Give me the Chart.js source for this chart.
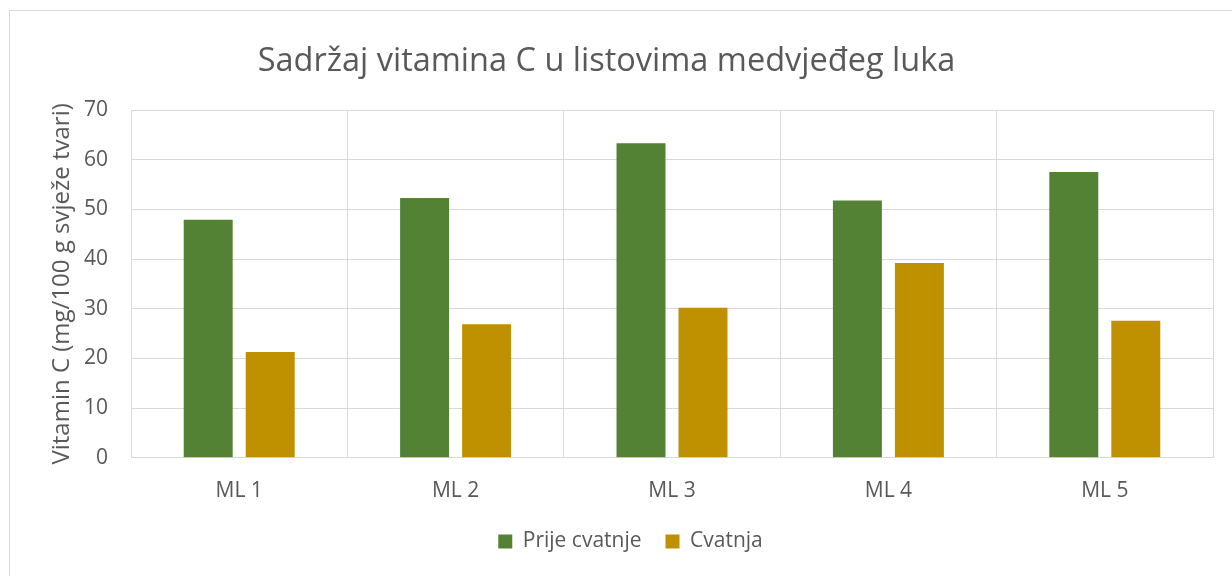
<!DOCTYPE html>
<html>
<head>
<meta charset="utf-8">
<script src="https://cdn.jsdelivr.net/npm/chart.js@4.4.1/dist/chart.umd.min.js"></script>
<style>
  html, body { margin: 0; padding: 0; background: #fff; }
  #wrap { position: relative; width: 1232px; height: 576px; overflow: hidden; }
  #frame { position: absolute; left: 9px; top: 10px; width: 1240px; height: 600px; border: 1px solid #d9d9d9; box-sizing: border-box; }
  canvas { position: absolute; left: 0; top: 0; }
</style>
</head>
<body>
<div id="wrap">
  <div id="frame"></div>
  <canvas id="vitChart" width="1232" height="576"></canvas>
</div>
<script>
// podaci sa grafikona
const categories = ['ML 1', 'ML 2', 'ML 3', 'ML 4', 'ML 5'];
const prijeCvatnje = [47.9, 52.3, 63.3, 51.8, 57.5];
const cvatnja = [21.3, 26.9, 30.2, 39.2, 27.6];
const yTicks = [0, 10, 20, 30, 40, 50, 60, 70];

const textColor = '#595959';
const gridColor = '#d9d9d9';
const fontFamily = "'Open Sans', 'Noto Sans', sans-serif";

// legenda: veći razmak između stavki, ali manje mjesta iznad, i malo udesno
const legendTweak = {
    id: 'legendTweak',
    beforeLayout(chart) {
        const lg = chart.legend;
        if (lg && !lg._tweaked) {
            const fit = lg.fit;
            lg.fit = function () { fit.call(this); this.height -= 18; };
            lg._tweaked = true;
        }
    },
    afterLayout(chart) {
        const lg = chart.legend;
        lg.top -= 18;
        lg.height += 18;
        lg.left += 24;
        lg.right += 24;
    }
};

const ctx = document.getElementById('vitChart').getContext('2d');
const vitChart = new Chart(ctx, {
    type: 'bar',
    data: {
        labels: categories,
        datasets: [{
            label: 'Prije cvatnje',
            data: prijeCvatnje,
            backgroundColor: '#548235',
            borderWidth: 0
        }, {
            label: 'Cvatnja',
            data: cvatnja,
            backgroundColor: '#bf9000',
            borderWidth: 0
        }]
    },
    plugins: [legendTweak],
    options: {
        responsive: false,
        animation: false,
        devicePixelRatio: 1,
        categoryPercentage: 0.573,
        barPercentage: 0.79,
        layout: {
            padding: { left: 0, right: 19, top: 0, bottom: 14 }
        },
        scales: {
            x: {
                grid: { color: gridColor, lineWidth: 1, drawTicks: false, offset: true },
                border: { color: gridColor },
                ticks: { color: textColor, font: { family: fontFamily, size: 21 }, padding: 21 }
            },
            y: {
                min: 0,
                max: 70,
                afterBuildTicks: (scale) => { scale.ticks = yTicks.map(v => ({ value: v })); },
                afterFit: (scale) => { scale.width = 131; },
                grid: { color: gridColor, lineWidth: 1, drawTicks: false },
                border: { color: gridColor },
                ticks: { color: textColor, font: { family: fontFamily, size: 21 }, padding: 23 },
                title: {
                    display: true,
                    text: 'Vitamin C (mg/100 g svježe tvari)',
                    color: textColor,
                    font: { family: fontFamily, size: 24 },
                    padding: { top: 48, bottom: 0 }
                }
            }
        },
        plugins: {
            title: {
                display: true,
                text: 'Sadržaj vitamina C u listovima medvjeđeg luka',
                color: textColor,
                font: { family: fontFamily, size: 32.5, weight: 'normal' },
                padding: { top: 42, bottom: 29 }
            },
            legend: {
                position: 'bottom',
                labels: {
                    color: textColor,
                    font: { family: fontFamily, size: 21 },
                    boxWidth: 14,
                    boxHeight: 14,
                    padding: 24
                }
            },
            tooltip: { enabled: false }
        }
    }
});
</script>
</body>
</html>
